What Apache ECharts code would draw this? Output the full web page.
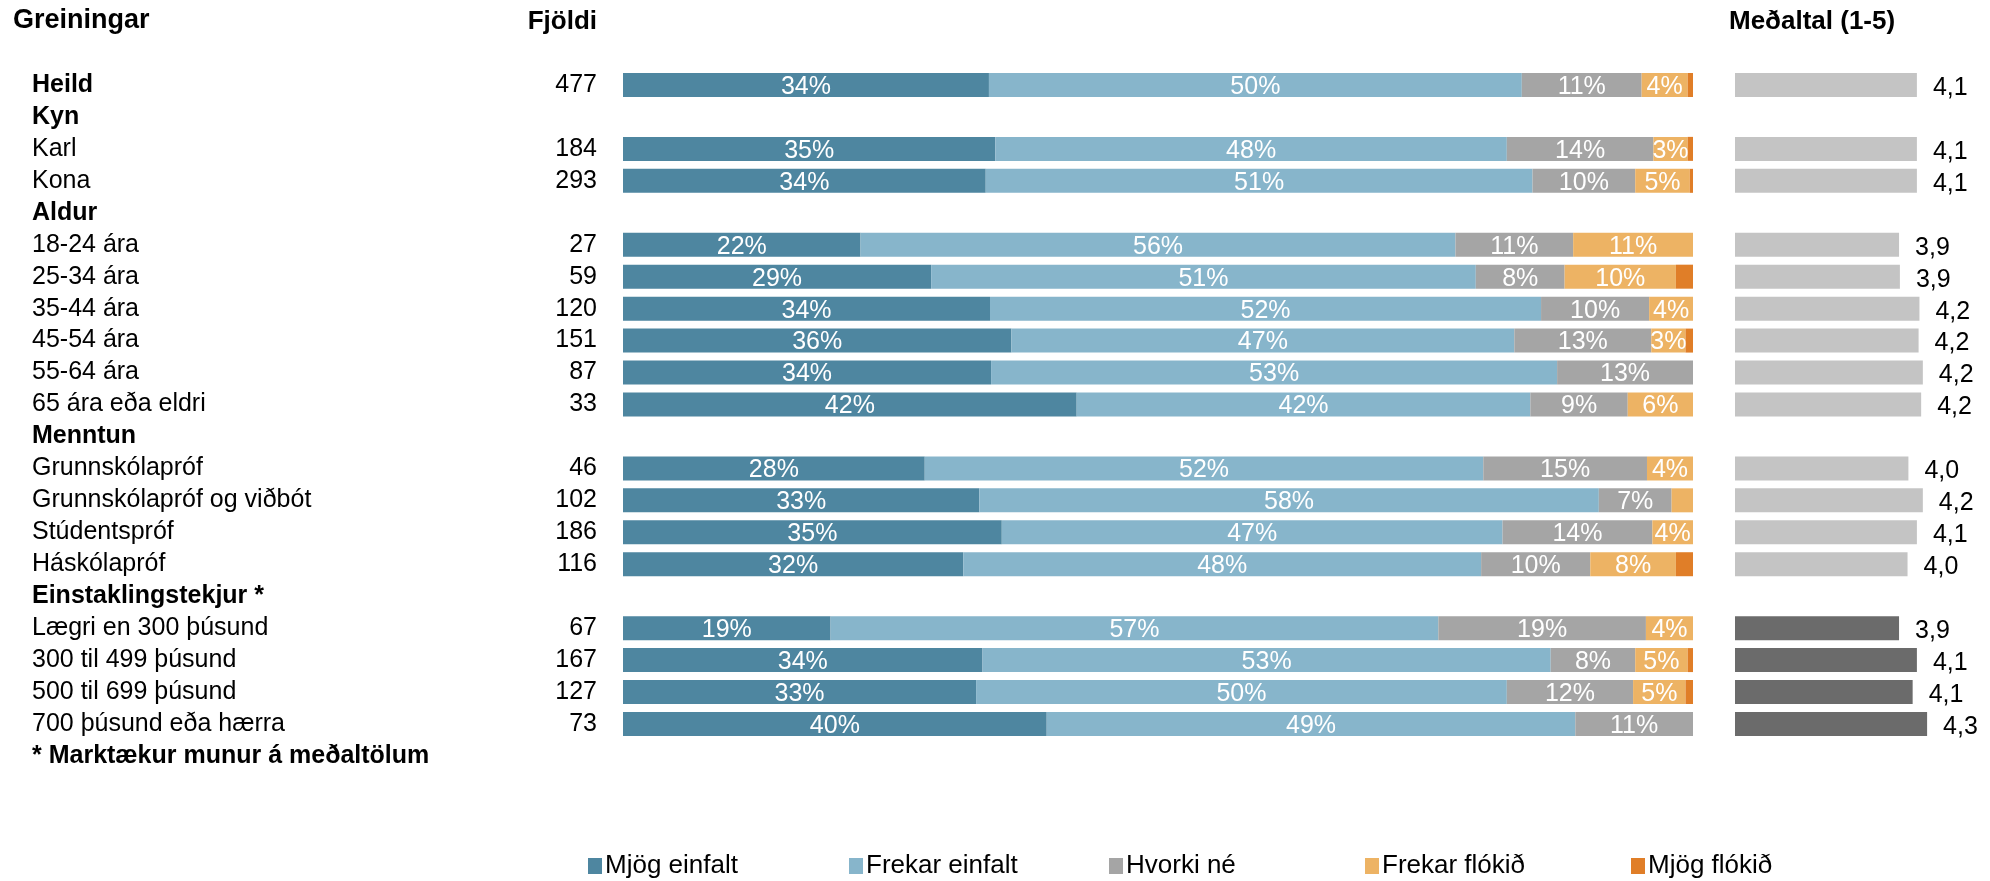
<!DOCTYPE html>
<html>
<head>
<meta charset="utf-8">
<script src="https://cdn.jsdelivr.net/npm/echarts@6/dist/echarts.min.js"></script>
<style>
html,body{margin:0;padding:0;background:#fff;}
#chart{width:1990px;height:881px;}
</style>
</head>
<body>
<div id="chart"></div>
<script>
// ---- Data ----
const categories = ['Heild','Kyn','Karl','Kona','Aldur','18-24 ára','25-34 ára','35-44 ára','45-54 ára','55-64 ára','65 ára eða eldri','Menntun','Grunnskólapróf','Grunnskólapróf og viðbót','Stúdentspróf','Háskólapróf','Einstaklingstekjur *','Lægri en 300 þúsund','300 til 499 þúsund','500 til 699 þúsund','700 þúsund eða hærra'];
const headerRows = ['Heild','Kyn','Aldur','Menntun','Einstaklingstekjur *'];
const significantGroup = 'Einstaklingstekjur *';
const counts = [477,null,184,293,null,27,59,120,151,87,33,null,46,102,186,116,null,67,167,127,73];
const seriesNames = ['Mjög einfalt','Frekar einfalt','Hvorki né','Frekar flókið','Mjög flókið'];
const mjogEinfalt   = [34.2,null,34.8,33.9,null,22.2,28.8,34.3,36.3,34.4,42.4,null,28.2,33.3,35.4,31.8,null,19.4,33.6,33.0,39.6];
const frekarEinfalt = [49.8,null,47.8,51.1,null,55.6,50.9,51.5,47.0,52.9,42.4,null,52.2,57.9,46.8,48.4,null,56.8,53.1,49.6,49.4];
const hvorkiNe      = [11.2,null,13.7,9.6,null,11.0,8.3,10.1,12.8,12.7,9.1,null,15.3,6.8,14.0,10.2,null,19.4,7.9,11.8,11.0];
const frekarFlokid  = [4.3,null,3.2,5.1,null,11.2,10.4,4.1,3.2,0,6.1,null,4.3,2.0,3.8,8.0,null,4.4,4.9,4.9,0];
const mjogFlokid    = [0.5,null,0.5,0.3,null,0,1.6,0,0.7,0,0,null,0,0,0,1.6,null,0,0.5,0.7,0];
const means = [4.14,null,4.14,4.14,null,3.93,3.94,4.17,4.16,4.21,4.19,null,4.04,4.21,4.14,4.03,null,3.93,4.14,4.09,4.26];
const titleText = 'Greiningar';
const countHeader = 'Fjöldi';
const meanHeader = 'Meðaltal (1-5)';
const footnote = '* Marktækur munur á meðaltölum';

// ---- Styles ----
const FONT = "'Liberation Sans', Arial, sans-serif";
const colors = ['#4E86A0','#87B5CB','#A5A5A5','#EDB364','#E07E28'];
const meanLight = '#C4C4C4', meanDark = '#6B6B6B';
const rowH = 31.95, topY = 69;
const gridH = rowH * categories.length;
const sigStart = categories.indexOf(significantGroup);
const FS = 25;

const valueSets = [mjogEinfalt, frekarEinfalt, hvorkiNe, frekarFlokid, mjogFlokid];

const chart = echarts.init(document.getElementById('chart'), null, {renderer:'canvas'});

const stackSeries = seriesNames.map((name, i) => ({
  name, type:'bar', stack:'total', xAxisIndex:0, yAxisIndex:0,
  barWidth:24,
  itemStyle:{color:colors[i]},
  label:{
    show:true, position:'inside', offset:[0,2], color:'#fff', fontFamily:FONT, fontSize:FS,
    formatter: p => (p.value != null && p.value >= 2.5) ? Math.round(p.value) + '%' : ''
  },
  emphasis:{disabled:true},
  data: valueSets[i]
}));

const legendX = [583, 844, 1104, 1360, 1626];

const option = {
  backgroundColor:'#fff',
  animation:false,
  textStyle:{fontFamily:FONT},
  grid:[
    {left:623, width:1070, top:topY, height:gridH},
    {left:1735, width:255, top:topY, height:gridH}
  ],
  xAxis:[
    {gridIndex:0, type:'value', min:0, max:100, show:false},
    {gridIndex:1, type:'value', min:2, max:5, show:false}
  ],
  yAxis:[
    {gridIndex:0, type:'category', data:categories, inverse:true,
     axisLine:{show:false}, axisTick:{show:false}, splitLine:{show:false},
     axisLabel:{interval:0, align:'left', margin:591, color:'#000', fontFamily:FONT, fontSize:FS,
       formatter:(v)=> headerRows.includes(v) ? '{b|'+v+'}' : '{n|'+v+'}',
       rich:{b:{fontWeight:'bold', fontSize:FS, fontFamily:FONT, color:'#000'}, n:{fontSize:FS, fontFamily:FONT, color:'#000'}}
     }},
    {gridIndex:0, type:'category', data:categories, inverse:true, position:'left',
     axisLine:{show:false}, axisTick:{show:false}, splitLine:{show:false},
     axisLabel:{interval:0, align:'right', margin:26, color:'#000', fontFamily:FONT, fontSize:FS,
       formatter:(v, idx)=> counts[idx] == null ? '' : String(counts[idx])}},
    {gridIndex:1, type:'category', data:categories, inverse:true, show:false}
  ],
  legend: legendX.map((x,i)=>({
    data:[seriesNames[i]], left:x, top:848, itemWidth:14, itemHeight:16, itemGap:0,
    icon:'rect', selectedMode:false,
    textStyle:{fontFamily:FONT, fontSize:26, color:'#000', padding:[0,0,0,-2]}
  })),
  series:[
    ...stackSeries,
    {name:'Meðaltal', type:'bar', xAxisIndex:1, yAxisIndex:2, barWidth:24,
     itemStyle:{color: p => p.dataIndex > sigStart ? meanDark : meanLight},
     label:{show:true, position:'right', distance:16, offset:[0,3], color:'#000', fontFamily:FONT, fontSize:FS,
       formatter: p => p.value == null ? '' : p.value.toFixed(1).replace('.', ',')},
     emphasis:{disabled:true},
     data: means}
  ],
  graphic:[
    {type:'text', left:13, top:7, style:{text:titleText, font:"bold 27px "+FONT, fill:'#000'}},
    {type:'text', x:597, y:22, style:{text:countHeader, font:"bold 26px "+FONT, fill:'#000', align:'right', verticalAlign:'middle'}},
    {type:'text', x:1729, y:22, style:{text:meanHeader, font:"bold 26px "+FONT, fill:'#000', align:'left', verticalAlign:'middle'}},
    {type:'text', x:32, y:topY + gridH + rowH/2, style:{text:footnote, font:"bold "+FS+"px "+FONT, fill:'#000', align:'left', verticalAlign:'middle'}}
  ]
};
chart.setOption(option);
</script>
</body>
</html>
